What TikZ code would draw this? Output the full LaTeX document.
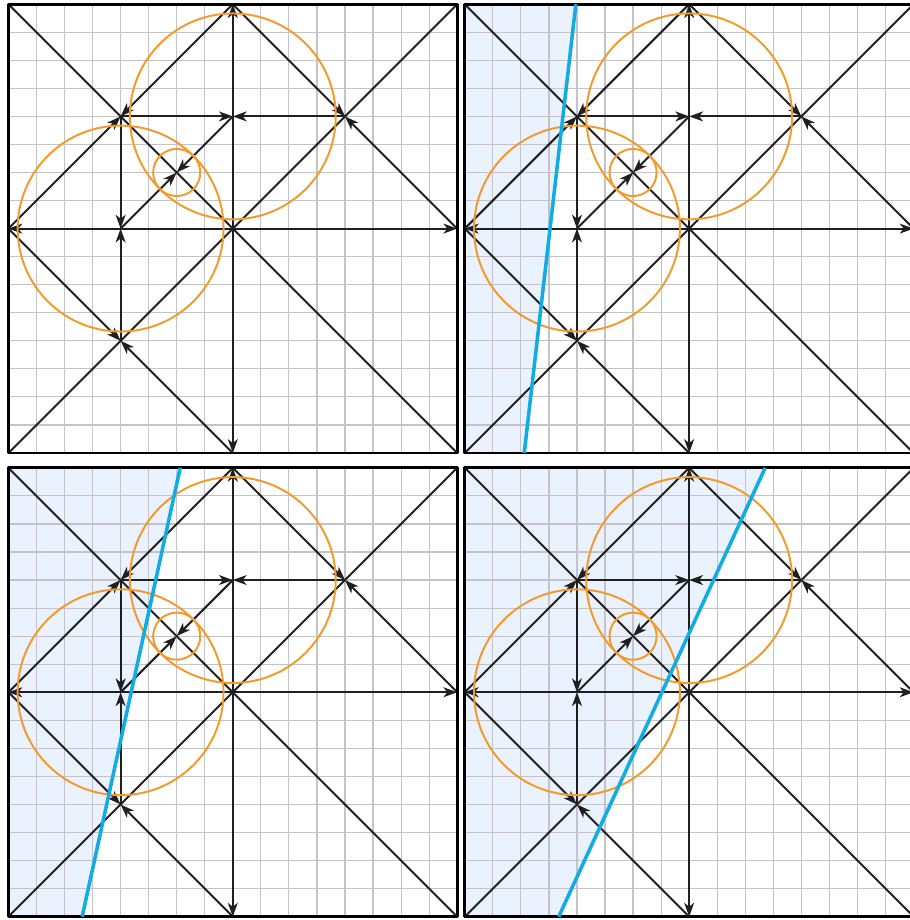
\documentclass[tikz,border=0pt]{standalone}
\usepackage{tikz}
\usepackage{xcolor}
\usetikzlibrary{arrows.meta}

\definecolor{ringorange}{RGB}{243,154,44}
\definecolor{cutblue}{RGB}{18,172,228}
\definecolor{halfshade}{RGB}{234,242,255}
\definecolor{gridgray}{RGB}{196,196,200}

\tikzset{
  edge/.style={line width=1pt, black!88},
  flow/.style={edge, -{Stealth[length=7pt,width=5pt,inset=2pt]}},
  ring/.style={line width=1pt, ringorange},
  cut/.style={line width=1.8pt, cutblue},
}

\begin{document}
\begin{tikzpicture}[x=0.5cm, y=0.5cm, line join=round]
  \useasboundingbox (0,0) rectangle (32.41,-32.80);

  \foreach \cx/\cy/\tx/\bx in {24.57/-8.15/-4.04/-5.88, 8.30/-24.68/-1.875/-5.37, 24.57/-24.68/2.71/-4.65} {
    \begin{scope}[shift={(\cx,\cy)}]
      \fill[halfshade] (-8,8) -- (\tx,8) -- (\bx,-8) -- (-8,-8) -- cycle;
    \end{scope}
  }

  \foreach \cx/\cy in {8.30/-8.15, 24.57/-8.15, 8.30/-24.68, 24.57/-24.68} {
    \begin{scope}[shift={(\cx,\cy)}]
      \draw[gridgray, line width=0.6pt, step=0.5cm] (-8,-8) grid (8,8);

      \coordinate (o) at (0,0);
      \coordinate (a) at (-4,4);
      \coordinate (b) at (0,4);
      \coordinate (c) at (4,4);
      \coordinate (d) at (-2,2);
      \coordinate (e) at (-4,0);
      \coordinate (f) at (-4,-4);
      \coordinate (mn) at (0,8);
      \coordinate (ms) at (0,-8);
      \coordinate (mw) at (-8,0);
      \coordinate (me) at (8,0);
      \coordinate (cnw) at (-8,8);
      \coordinate (cne) at (8,8);
      \coordinate (csw) at (-8,-8);
      \coordinate (cse) at (8,-8);

      \draw[edge] (cnw) -- (cse);
      \draw[edge] (csw) -- (cne);

      \draw[flow] (o) -- (mn);
      \draw[flow] (o) -- (ms);
      \draw[flow] (o) -- (mw);
      \draw[flow] (o) -- (me);

      \draw[flow] (mw) -- (a);
      \draw[flow] (mn) -- (a);
      \draw[flow] (mn) -- (c);
      \draw[flow] (me) -- (c);
      \draw[flow] (mw) -- (f);
      \draw[flow] (ms) -- (f);
      \draw[flow] (e) -- (d);
      \draw[flow] (b) -- (d);
      \draw[flow] (a) -- (b);
      \draw[flow] (c) -- (b);
      \draw[flow] (a) -- (e);
      \draw[flow] (f) -- (e);

      \draw[ring] (b) circle (3.67);
      \draw[ring] (e) circle (3.67);
      \draw[ring] (d) circle (0.84);

      \draw[line width=1.4pt] (csw) rectangle (cne);
    \end{scope}
  }

  \foreach \cx/\cy/\tx/\bx in {24.57/-8.15/-4.04/-5.88, 8.30/-24.68/-1.875/-5.37, 24.57/-24.68/2.71/-4.65} {
    \begin{scope}[shift={(\cx,\cy)}]
      \draw[cut] (\tx,8) -- (\bx,-8);
    \end{scope}
  }
\end{tikzpicture}
\end{document}
